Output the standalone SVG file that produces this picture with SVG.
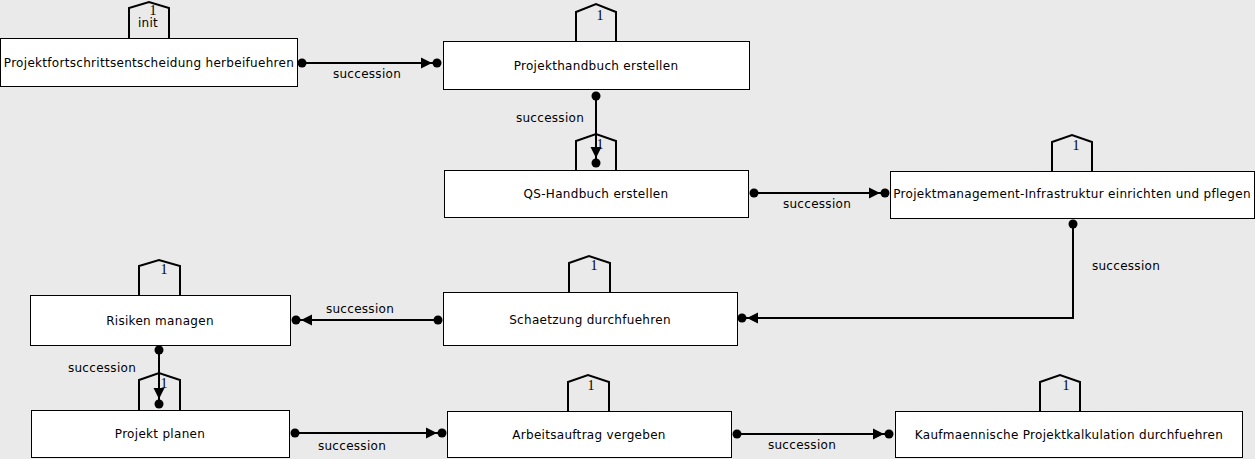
<svg xmlns="http://www.w3.org/2000/svg" width="1255" height="459" viewBox="0 0 1255 459">
<style>
.bg{fill:#eaeaea}
.box{fill:#ffffff;stroke:#000000;stroke-width:1}
.tab{fill:none;stroke:#000000;stroke-width:2}
.lbl{font-family:"DejaVu Sans","Liberation Sans",sans-serif;font-size:12px;fill:#000000;text-anchor:middle;letter-spacing:0.3px}
.num{font-family:"Liberation Serif","DejaVu Serif",serif;font-size:14px;fill:#000000;text-anchor:middle}
.edge{fill:none;stroke:#000000;stroke-width:2;marker-start:url(#dot);marker-end:url(#arrowdot)}
.elbl{font-family:"DejaVu Sans","Liberation Sans",sans-serif;font-size:12px;fill:#000000;text-anchor:middle;letter-spacing:0.3px}
</style>
<defs>
<marker id="dot" markerUnits="userSpaceOnUse" markerWidth="12" markerHeight="12" viewBox="-6 -6 12 12" refX="0" refY="0" orient="auto" overflow="visible">
<circle cx="0" cy="0" r="4.5" fill="#000000"/>
</marker>
<marker id="arrowdot" markerUnits="userSpaceOnUse" markerWidth="30" markerHeight="14" viewBox="-20 -7 30 14" refX="0" refY="0" orient="auto" overflow="visible">
<polygon points="-16,-5.5 -16,5.5 -5,0" fill="#000000"/>
<circle cx="0" cy="0" r="4.5" fill="#000000"/>
</marker>
</defs>
<rect class="bg" x="0" y="0" width="1255" height="459"/>

<g id="connectors">
<g id="e1"><path class="edge" d="M302,63 H437"/><text class="elbl" x="367" y="78">succession</text></g>
<g id="e2"><path class="edge" d="M596,96 V163"/><text class="elbl" x="550" y="122">succession</text></g>
<g id="e3"><path class="edge" d="M754,193 H885"/><text class="elbl" x="817" y="208">succession</text></g>
<g id="e4"><path class="edge" d="M1073,224 V318 H742"/><text class="elbl" x="1126" y="270">succession</text></g>
<g id="e5"><path class="edge" d="M438,320 H296"/><text class="elbl" x="360" y="313">succession</text></g>
<g id="e6"><path class="edge" d="M159,350 V404"/><text class="elbl" x="102" y="372">succession</text></g>
<g id="e7"><path class="edge" d="M295,433 H442"/><text class="elbl" x="352" y="450">succession</text></g>
<g id="e8"><path class="edge" d="M737,434 H889"/><text class="elbl" x="802" y="449">succession</text></g>
</g>

<g id="n1">
<path class="tab" d="M129,38 V8 L149,2 L169,8 V38"/>
<text class="num" x="153" y="15">1</text>
<text class="lbl" x="148" y="27">init</text>
<rect class="box" x="0.5" y="38.5" width="297" height="48"/>
<text class="lbl" x="149" y="67">Projektfortschrittsentscheidung herbeifuehren</text>
</g>

<g id="n2">
<path class="tab" d="M576,42 V12 L596,4 L616,12 V42"/>
<text class="num" x="600" y="20">1</text>
<rect class="box" x="443.5" y="41.5" width="306" height="48"/>
<text class="lbl" x="596" y="70">Projekthandbuch erstellen</text>
</g>

<g id="n3">
<path class="tab" d="M576,170 V141 L596,134 L616,141 V170"/>
<text class="num" x="600" y="149">1</text>
<rect class="box" x="444.5" y="170.5" width="304" height="47"/>
<text class="lbl" x="596" y="198">QS-Handbuch erstellen</text>
</g>

<g id="n4">
<path class="tab" d="M1052,172 V142 L1072,135 L1092,142 V172"/>
<text class="num" x="1076" y="150">1</text>
<rect class="box" x="890.5" y="171.5" width="364" height="47"/>
<text class="lbl" x="1072" y="198">Projektmanagement-Infrastruktur einrichten und pflegen</text>
</g>

<g id="n5">
<path class="tab" d="M569,293 V263 L589,256 L610,263 V293"/>
<text class="num" x="594" y="270">1</text>
<rect class="box" x="443.5" y="292.5" width="294" height="53"/>
<text class="lbl" x="590" y="324">Schaetzung durchfuehren</text>
</g>

<g id="n6">
<path class="tab" d="M139,296 V266 L159,260 L180,266 V296"/>
<text class="num" x="164" y="274">1</text>
<rect class="box" x="30.5" y="295.5" width="260" height="50"/>
<text class="lbl" x="160" y="325">Risiken managen</text>
</g>

<g id="n7">
<path class="tab" d="M139,410 V380 L159,373 L180,380 V410"/>
<text class="num" x="164" y="388">1</text>
<rect class="box" x="31.5" y="410.5" width="258" height="47"/>
<text class="lbl" x="160" y="438">Projekt planen</text>
</g>

<g id="n8">
<path class="tab" d="M568,412 V382 L588,375 L609,382 V412"/>
<text class="num" x="591" y="390">1</text>
<rect class="box" x="447.5" y="411.5" width="284" height="46"/>
<text class="lbl" x="589" y="439">Arbeitsauftrag vergeben</text>
</g>

<g id="n9">
<path class="tab" d="M1040,412 V382 L1060,375 L1080,382 V412"/>
<text class="num" x="1066" y="390">1</text>
<rect class="box" x="895.5" y="411.5" width="347" height="46"/>
<text class="lbl" x="1069" y="439">Kaufmaennische Projektkalkulation durchfuehren</text>
</g>
</svg>
